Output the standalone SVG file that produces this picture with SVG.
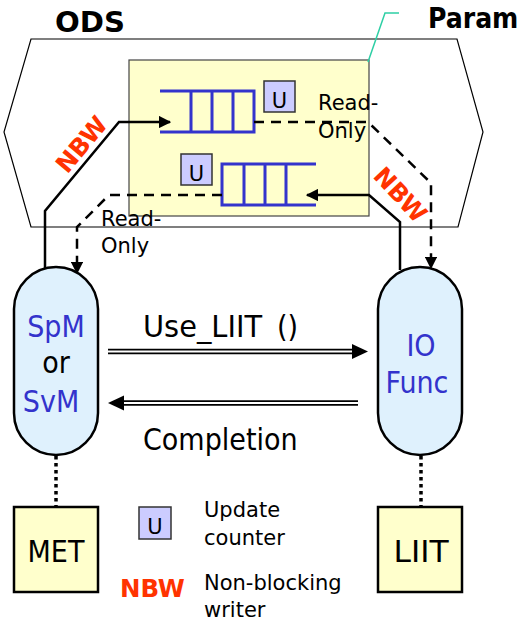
<svg xmlns="http://www.w3.org/2000/svg" width="529" height="624" viewBox="0 0 529 624">
  <style>
    text { font-family: "DejaVu Sans", Verdana, sans-serif; fill: #000; }
    .big { font-size: 30px; font-stretch: condensed; }
    .mid { font-size: 21px; }
    .blue { fill: #3333CC; }
    .nbw { font-weight: bold; fill: #FF3300; font-size: 24.5px; }
    .title { font-weight: bold; font-size: 28px; }
    .queue { fill: none; stroke: #3333CC; stroke-width: 3; }
    .ubox { fill: #CCCCFF; stroke: #333; stroke-width: 1.5; }
    .wire { fill: none; stroke: #000; stroke-width: 2.5; }
    .dash { stroke-dasharray: 10 7; }
    .dot { fill: none; stroke: #000; stroke-width: 3.5; stroke-dasharray: 3.5 3.5; }
    .capsule { fill: #DFF1FD; stroke: #000; stroke-width: 2.5; }
    .store { fill: #FFFFCC; stroke: #000; stroke-width: 2.5; }
  </style>
  <defs>
    <marker id="head" viewBox="0 0 10 10" refX="9" refY="5" markerWidth="5" markerHeight="5" markerUnits="strokeWidth" orient="auto">
      <path d="M0,0 L10,5 L0,10 z" fill="#000"/>
    </marker>
  </defs>

  <!-- ODS region -->
  <g id="ods">
    <polygon points="31,39 457,39 483,132 458,227 31,227 4,132" fill="#fff" stroke="#000" stroke-width="1.2"/>
    <text class="title" x="55" y="32" textLength="70" lengthAdjust="spacingAndGlyphs">ODS</text>
  </g>

  <!-- Param store -->
  <g id="param">
    <rect x="129" y="60" width="240" height="156" fill="#FFFFCC" stroke="#444" stroke-width="1.2"/>
    <polyline points="399,13 385,13 368,62" fill="none" stroke="#2ECFA5" stroke-width="1.5"/>
    <text class="title" x="428" y="28" font-size="30" font-stretch="condensed">Param</text>
  </g>

  <!-- Upper queue (written by SpM/SvM) -->
  <g id="queue-upper">
    <path class="queue" d="M160,91 H254 V132 H160 M191,91 V132 M212,91 V132 M233,91 V132"/>
    <rect class="ubox" x="264" y="81" width="31" height="31"/>
    <text class="mid" x="279.5" y="108" text-anchor="middle">U</text>
  </g>

  <!-- Lower queue (written by IO Func) -->
  <g id="queue-lower">
    <path class="queue" d="M316,164 H222 V205 H316 M244,164 V205 M265,164 V205 M286,164 V205"/>
    <rect class="ubox" x="181" y="154" width="31" height="31"/>
    <text class="mid" x="196.5" y="181" text-anchor="middle">U</text>
  </g>

  <!-- Connectors -->
  <g id="connectors">
    <!-- NBW writer paths -->
    <polyline class="wire" points="45,268 45,211 119,122 170,122" marker-end="url(#head)"/>
    <polyline class="wire" points="400,270 400,222 369,195 307,195" marker-end="url(#head)"/>
    <!-- read-only paths -->
    <polyline class="wire dash" points="254,122 368,122 431,183 431,268" marker-end="url(#head)"/>
    <polyline class="wire dash" points="222,195 109,195 77,227 77,273" marker-end="url(#head)"/>

    <!-- Use_LIIT () call -->
    <line x1="108" y1="351.5" x2="354" y2="351.5" stroke="#000" stroke-width="5.5"/>
    <line x1="108" y1="351.5" x2="354" y2="351.5" stroke="#fff" stroke-width="1.8"/>
    <polygon points="352,344 368,351.5 352,359" fill="#000"/>
    <!-- Completion return -->
    <line x1="122" y1="403" x2="358" y2="403" stroke="#000" stroke-width="5.5"/>
    <line x1="122" y1="403" x2="358" y2="403" stroke="#fff" stroke-width="1.8"/>
    <polygon points="124,395.5 108,403 124,410.5" fill="#000"/>

    <!-- links to tables -->
    <line class="dot" x1="56" y1="456" x2="56" y2="506"/>
    <line class="dot" x1="421" y1="456" x2="421" y2="506"/>
  </g>

  <!-- Edge labels -->
  <g id="labels">
    <text class="nbw" transform="translate(88,150) rotate(-50)" text-anchor="middle" font-size="23">NBW</text>
    <text class="nbw" transform="translate(400,195) rotate(47)" text-anchor="middle" font-size="23" dy="8">NBW</text>
    <text class="mid" x="318" y="110">Read-</text>
    <text class="mid" x="318" y="138">Only</text>
    <text class="mid" x="101" y="226">Read-</text>
    <text class="mid" x="101" y="253">Only</text>
    <text class="big" x="143" y="337" textLength="119" lengthAdjust="spacingAndGlyphs">Use_LIIT</text>
    <text class="big" x="277" y="337">()</text>
    <text class="big" x="143" y="450">Completion</text>
  </g>

  <!-- SpM / SvM -->
  <g id="spm">
    <rect class="capsule" x="14" y="267" width="84" height="188" rx="42" ry="42"/>
    <text class="big blue" x="56" y="337" text-anchor="middle">SpM</text>
    <text class="big" x="56" y="373" text-anchor="middle">or</text>
    <text class="big blue" x="51" y="412" text-anchor="middle">SvM</text>
  </g>

  <!-- IO Func -->
  <g id="iofunc">
    <rect class="capsule" x="378" y="267" width="84" height="188" rx="42" ry="42"/>
    <text class="big blue" x="421" y="356" text-anchor="middle">IO</text>
    <text class="big blue" x="417" y="393" text-anchor="middle">Func</text>
  </g>

  <!-- MET table -->
  <g id="met">
    <rect class="store" x="14" y="507" width="84" height="85"/>
    <text class="big" x="56" y="562" text-anchor="middle">MET</text>
  </g>

  <!-- LIIT table -->
  <g id="liit">
    <rect class="store" x="378" y="507" width="84" height="85"/>
    <text class="big" x="421" y="562" text-anchor="middle" textLength="55" lengthAdjust="spacingAndGlyphs">LIIT</text>
  </g>

  <!-- Legend -->
  <g id="legend">
    <rect class="ubox" x="139" y="507" width="32" height="32"/>
    <text class="mid" x="155" y="534" text-anchor="middle">U</text>
    <text class="mid" x="204" y="517">Update</text>
    <text class="mid" x="204" y="545">counter</text>
    <text class="nbw" x="120" y="597">NBW</text>
    <text class="mid" x="204" y="590">Non-blocking</text>
    <text class="mid" x="204" y="617">writer</text>
  </g>
</svg>
